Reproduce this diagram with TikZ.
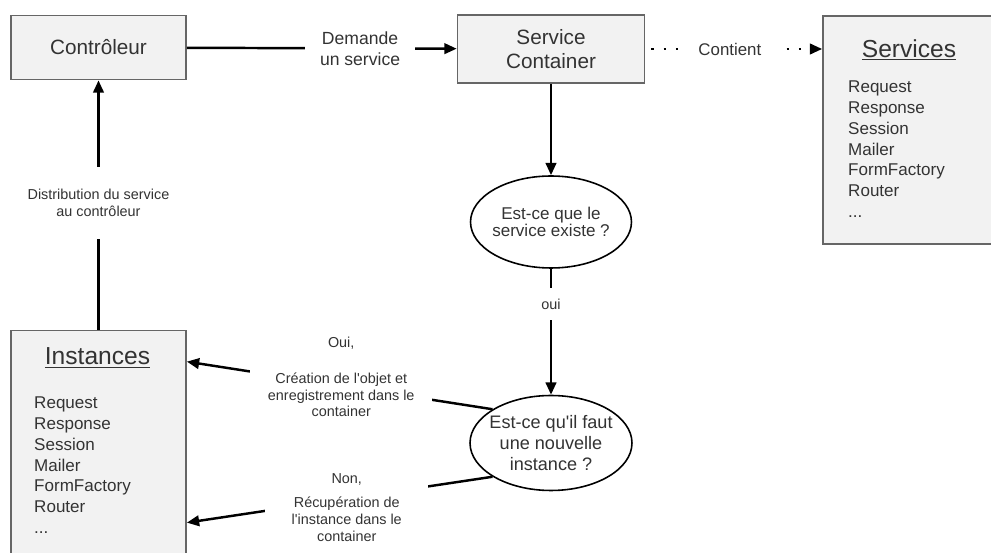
\documentclass[tikz,border=0pt]{standalone}
\usepackage{fontspec}
\setmainfont{Liberation Sans}
\usetikzlibrary{arrows.meta}
\usetikzlibrary{shapes.geometric}
\usetikzlibrary{calc}

\definecolor{boxfill}{HTML}{F2F2F2}
\definecolor{boxline}{HTML}{666666}
\definecolor{txt}{HTML}{333333}

\begin{document}
\begin{tikzpicture}[x=0.02cm,y=-0.02cm,>={Triangle[length=7pt,width=6pt]},->,line width=1.4pt]
  \tikzset{every node/.style={text=txt,font=\fontsize{10}{12}\selectfont}}
  \tikzset{box/.style={rectangle,draw=boxline,fill=boxfill,line width=1pt,align=center,font=\fontsize{11.8}{13.7}\selectfont}}
  \tikzset{question/.style={ellipse,draw=black,fill=white,line width=0.9pt,align=center,inner xsep=-3pt,inner ysep=0pt}}
  \tikzset{lbl/.style={fill=white,align=center,inner sep=0pt}}
  \tikzset{small/.style={lbl,font=\fontsize{8.2}{9.5}\selectfont}}
  \tikzset{boxtitle/.style={font=\fontsize{14}{16}\selectfont,inner sep=0pt}}
  \tikzset{itemlist/.style={anchor=north west,align=left,inner sep=0pt,font=\fontsize{9.7}{11.8}\selectfont}}
  \tikzset{dots/.style={dash pattern=on 1.4pt off 5.6pt,dash phase=3.6pt}}

  \useasboundingbox (0,0) rectangle (991,553);

  \node[box,minimum width=3.5cm,minimum height=1.28cm] (c) at (98.5,47.5) {Contrôleur};
  \node[box,minimum width=3.74cm,minimum height=1.36cm] (sc) at (551,49) {Service\\Container};
  \node[box,minimum width=3.6cm,minimum height=4.56cm] (s) at (913,130) {};
  \node[box,minimum width=3.5cm,minimum height=4.9cm] (i) at (98.5,453) {};

  \node[boxtitle] (st) at (909,50) {\underline{Services}};
  \node[itemlist] (sl) at (847,80) {Request\\Response\\Session\\Mailer\\FormFactory\\Router\\...};
  \node[boxtitle] (it) at (97.5,358) {\underline{Instances}};
  \node[itemlist] (il) at (33,396) {Request\\Response\\Session\\Mailer\\FormFactory\\Router\\...};

  \node[question,minimum width=3.22cm,minimum height=1.84cm,font=\fontsize{9.7}{9.7}\selectfont] (q1) at (551,222) {Est-ce que le\\service existe ?};
  \node[question,minimum width=3.24cm,minimum height=1.9cm,font=\fontsize{10.3}{11.7}\selectfont] (q2) at (551,443) {Est-ce qu\textquotesingle il faut\\une nouvelle\\instance ?};

  \path (c) edge node[lbl,pos=0.642,inner xsep=8.5pt] {Demande\\un service} (sc);
  \path (sc) edge[dots] node[lbl,pos=0.478,inner xsep=11pt,font=\fontsize{9.6}{11}\selectfont] {Contient} (sc -| s.west);
  \path (sc) edge (q1);
  \path (q1) edge node[small,pos=0.28,inner ysep=6pt] {oui} (q2);
  \path (i) edge node[small,pos=0.508,inner ysep=13pt] {Distribution du service\\au contrôleur} (c);
  \path (q2.150) edge node[small,pos=0.495,yshift=5pt,inner xsep=10pt] {Oui,\\[11pt]Création de l\textquotesingle objet et\\enregistrement dans le\\container} ($(i.north east)+(0,32)$);
  \path (q2.210) edge node[small,pos=0.477,yshift=-5pt,inner xsep=15pt] {Non,\\[4.5pt]Récupération de\\l\textquotesingle instance dans le\\container} ($(i.north east)+(0,193)$);
\end{tikzpicture}
\end{document}
